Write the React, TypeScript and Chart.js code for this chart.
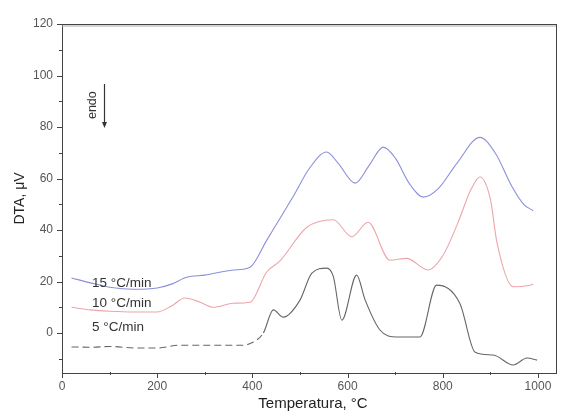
import React, { useEffect, useRef } from "react";
import { Chart, registerables } from "chart.js";

Chart.register(...registerables);

const blueT = [20, 60, 100, 150, 200, 230, 262, 300, 360, 395, 430, 485, 520, 556, 580, 616, 645, 675, 700, 730, 759, 790, 830, 878, 910, 945, 970, 990];
const blueV = [21.4, 19.5, 17.8, 17, 17.5, 19, 21.7, 22.5, 24.5, 25.6, 36, 52.8, 64, 70.3, 66, 58.2, 65, 72.2, 68, 58, 52.8, 56, 66, 76, 70, 57, 50, 47.5];

const redT = [20, 60, 100, 150, 200, 230, 258, 290, 318, 360, 395, 430, 458, 514, 570, 609, 643, 689, 724, 769, 800, 830, 860, 878, 900, 914, 948, 983, 990];
const redV = [10, 9, 8.5, 8.2, 8.2, 10.5, 13.6, 12, 10, 11.6, 12, 23.7, 28, 41, 44, 37.4, 43, 28.3, 29, 24.5, 30, 42, 56, 60.6, 52, 35, 18, 18.6, 19];

const blackT = [20, 60, 100, 157, 200, 248, 300, 380, 402, 423, 444, 465, 500, 525, 556, 570, 588, 619, 637, 668, 703, 752, 787, 836, 868, 906, 948, 977, 998];
const blackV = [-5.4, -5.5, -5.2, -5.8, -5.8, -4.7, -4.7, -4.7, -3.5, 0, 9, 6.2, 12.8, 23.3, 25.2, 22, 5, 22.5, 12.8, 1.2, -1.5, -1.5, 18.6, 11.5, -7.4, -8.5, -12.4, -9.7, -10.5];

const xMajor = [0, 200, 400, 600, 800, 1000];
const xMinor = [100, 300, 500, 700, 900];
const yMajor = [0, 20, 40, 60, 80, 100, 120];
const yMinor = [-10, 10, 30, 50, 70, 90, 110];

const seriesLabels = ["15 °C/min", "10 °C/min", "5 °C/min"];
const labelPos = [
  { x: 63, y: 19.4 },
  { x: 63, y: 11.6 },
  { x: 63, y: 2.3 },
];

const toXY = (t: number[], v: number[]) => t.map((x, i) => ({ x, y: v[i] }));

const decorPlugin = {
  id: "decor",
  afterDraw(chart: any) {
    const { ctx, chartArea: a, scales } = chart;
    const xs = scales.x;
    const ys = scales.y;
    ctx.save();
    // frame
    ctx.strokeStyle = "#444";
    ctx.lineWidth = 1;
    ctx.strokeRect(a.left + 0.5, a.top + 0.5, a.right - a.left - 1, a.bottom - a.top);
    ctx.strokeStyle = "#aaa";
    ctx.beginPath();
    ctx.moveTo(a.left, a.top + 2);
    ctx.lineTo(a.right - 1, a.top + 2);
    ctx.stroke();
    // ticks
    ctx.strokeStyle = "#444";
    ctx.beginPath();
    xMajor.forEach((v) => {
      const p = Math.round(xs.getPixelForValue(v)) + 0.5;
      ctx.moveTo(p, a.bottom);
      ctx.lineTo(p, a.bottom + 5);
    });
    xMinor.forEach((v) => {
      const p = Math.round(xs.getPixelForValue(v)) + 0.5;
      ctx.moveTo(p, a.bottom - 1);
      ctx.lineTo(p, a.bottom + 2);
    });
    yMajor.forEach((v) => {
      const p = Math.round(ys.getPixelForValue(v)) + 0.5;
      ctx.moveTo(a.left, p);
      ctx.lineTo(a.left - 5, p);
    });
    yMinor.forEach((v) => {
      const p = Math.round(ys.getPixelForValue(v)) + 0.5;
      ctx.moveTo(a.left, p);
      ctx.lineTo(a.left - 3, p);
    });
    ctx.stroke();
    // tick labels
    ctx.fillStyle = "#555";
    ctx.font = "12px 'Liberation Sans', Arial, sans-serif";
    ctx.textAlign = "center";
    ctx.textBaseline = "top";
    xMajor.forEach((v) => ctx.fillText(String(v), xs.getPixelForValue(v), a.bottom + 8));
    ctx.textAlign = "right";
    ctx.textBaseline = "middle";
    yMajor.forEach((v) => ctx.fillText(String(v), a.left - 9, ys.getPixelForValue(v)));
    // axis titles
    ctx.fillStyle = "#222";
    ctx.font = "15px 'Liberation Sans', Arial, sans-serif";
    ctx.textAlign = "center";
    ctx.textBaseline = "middle";
    ctx.fillText("Temperatura, °C", 313, 404);
    ctx.save();
    ctx.translate(20, (a.top + a.bottom) / 2);
    ctx.rotate(-Math.PI / 2);
    ctx.font = "14px 'Liberation Sans', Arial, sans-serif";
    ctx.fillText("DTA, μV", 0, 0);
    ctx.restore();
    // series labels
    ctx.fillStyle = "#333";
    ctx.font = "13.5px 'Liberation Sans', Arial, sans-serif";
    ctx.textAlign = "left";
    seriesLabels.forEach((s, i) => {
      ctx.fillText(s, xs.getPixelForValue(labelPos[i].x), ys.getPixelForValue(labelPos[i].y));
    });
    // endo annotation
    ctx.save();
    ctx.translate(xs.getPixelForValue(65), ys.getPixelForValue(88.5));
    ctx.rotate(-Math.PI / 2);
    ctx.font = "12.5px 'Liberation Sans', Arial, sans-serif";
    ctx.fillText("endo", -ctx.measureText("endo").width / 2, 0);
    ctx.restore();
    const ax = Math.round(xs.getPixelForValue(88)) + 0.5;
    const ay0 = ys.getPixelForValue(96.7);
    const ay1 = ys.getPixelForValue(79.6);
    ctx.strokeStyle = "#333";
    ctx.lineWidth = 1.2;
    ctx.beginPath();
    ctx.moveTo(ax, ay0);
    ctx.lineTo(ax, ay1 - 4);
    ctx.stroke();
    ctx.fillStyle = "#333";
    ctx.beginPath();
    ctx.moveTo(ax - 2.5, ay1 - 6);
    ctx.lineTo(ax + 2.5, ay1 - 6);
    ctx.lineTo(ax, ay1);
    ctx.closePath();
    ctx.fill();
    ctx.restore();
  },
};

export default function App() {
  const ref = useRef<HTMLCanvasElement>(null);
  useEffect(() => {
    document.body.style.margin = "0";
    const c = ref.current!;
    const chart = new Chart(c, {
      type: "line",
      data: {
        datasets: [
          {
            label: seriesLabels[0],
            data: toXY(blueT, blueV),
            borderColor: "#8a90da",
            borderWidth: 1.1,
            pointRadius: 0,
            cubicInterpolationMode: "monotone",
          },
          {
            label: seriesLabels[1],
            data: toXY(redT, redV),
            borderColor: "#eba6aa",
            borderWidth: 1.1,
            pointRadius: 0,
            cubicInterpolationMode: "monotone",
          },
          {
            label: seriesLabels[2],
            data: toXY(blackT, blackV),
            borderColor: "#666",
            borderWidth: 1.1,
            pointRadius: 0,
            cubicInterpolationMode: "monotone",
            segment: {
              borderDash: (ctx: any) => (ctx.p0.parsed.x < 410 ? [7, 4] : undefined),
            },
          },
        ],
      },
      options: {
        animation: false,
        responsive: false,
        maintainAspectRatio: false,
        layout: { padding: { left: 0, top: 24, right: 4, bottom: 0 } },
        plugins: { legend: { display: false }, tooltip: { enabled: false } },
        scales: {
          x: {
            type: "linear",
            min: 0,
            max: 1040,
            grid: { display: false },
            border: { display: false },
            ticks: { display: false },
            afterFit: (s: any) => {
              s.height = 42;
            },
          },
          y: {
            type: "linear",
            min: -15.5,
            max: 120,
            grid: { display: false },
            border: { display: false },
            ticks: { display: false },
            afterFit: (s: any) => {
              s.width = 62;
            },
          },
        },
      },
      plugins: [decorPlugin],
    });
    return () => chart.destroy();
  }, []);
  return <canvas ref={ref} width={561} height={415} style={{ display: "block" }} />;
}
